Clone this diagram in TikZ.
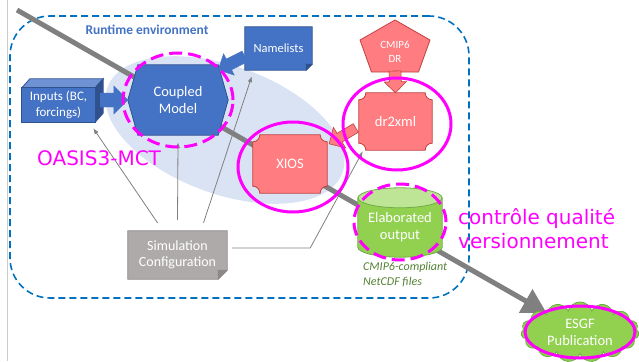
\documentclass[tikz,border=0pt]{standalone}
\usepackage{fontspec}
\setmainfont{Carlito}
\newfontfamily\annfont{DejaVu Sans}
\usetikzlibrary{positioning, calc, shapes.geometric, shapes.symbols, arrows.meta}
\pgfdeclarelayer{back}
\pgfdeclarelayer{shapes}
\pgfsetlayers{back,shapes,main}

\definecolor{runblue}{RGB}{0,112,192}
\definecolor{boxblue}{RGB}{68,114,196}
\definecolor{boxblueD}{RGB}{47,82,143}
\definecolor{boxblueL}{RGB}{110,146,212}
\definecolor{boxred}{RGB}{255,124,128}
\definecolor{boxredD}{RGB}{192,64,64}
\definecolor{boxgreen}{RGB}{146,208,80}
\definecolor{boxgreenL}{RGB}{190,228,150}
\definecolor{boxgreenD}{RGB}{112,173,71}
\definecolor{boxgray}{RGB}{174,170,170}
\definecolor{boxgrayD}{RGB}{140,136,136}
\definecolor{haze}{RGB}{218,227,243}
\definecolor{hlpink}{RGB}{255,0,255}
\definecolor{notegreen}{RGB}{84,130,53}
\definecolor{flowgray}{RGB}{128,128,128}

\tikzset{
  box/.style={inner sep=0pt, text=white, align=center, font=\fontsize{14.5}{17}\selectfont},
  hl/.style={ellipse, draw=hlpink, line width=3pt, inner sep=0pt},
  hldash/.style={hl, dash pattern=on 13pt off 6pt},
  hltext/.style={text=hlpink, inner sep=0pt, font=\annfont\fontsize{20}{24}\selectfont},
  link/.style={draw=flowgray, line width=0.8pt, -{Latex[length=6pt,width=4.5pt]}},
  flow/.style={draw=flowgray, line width=5pt, -{Triangle[length=24pt,width=26pt]}},
}

\newcommand{\plaque}[3]{%
  \filldraw[fill=#2, draw=#3, line width=0.8pt] ([xshift=7pt]#1.north west) -- ([xshift=-7pt]#1.north east)
    .. controls ([xshift=-7pt,yshift=-4pt]#1.north east) and ([xshift=-4pt,yshift=-7pt]#1.north east) .. ([yshift=-7pt]#1.north east)
    -- ([yshift=7pt]#1.south east)
    .. controls ([xshift=-4pt,yshift=7pt]#1.south east) and ([xshift=-7pt,yshift=4pt]#1.south east) .. ([xshift=-7pt]#1.south east)
    -- ([xshift=7pt]#1.south west)
    .. controls ([xshift=7pt,yshift=4pt]#1.south west) and ([xshift=4pt,yshift=7pt]#1.south west) .. ([yshift=7pt]#1.south west)
    -- ([yshift=-7pt]#1.north west)
    .. controls ([xshift=4pt,yshift=-7pt]#1.north west) and ([xshift=7pt,yshift=-4pt]#1.north west) .. cycle;}

\newcommand{\docshape}[4]{%
  \filldraw[fill=#2, draw=#3, line width=0.8pt] (#1.north west) -- (#1.north east) -- ([yshift=#4]#1.south east)
    -- ([xshift=-#4]#1.south east) -- (#1.south west) -- cycle;
  \filldraw[fill=#3, draw=#3, line width=0.8pt] ([yshift=#4]#1.south east) -- ([xshift=-#4]#1.south east)
    -- ([xshift=-#4,yshift=#4]#1.south east) -- cycle;}

\newcommand{\blockarrow}[5]{%
  \coordinate (ba) at ($(#3)!#5!(#2)$);
  \filldraw[#1] ($(#2)!#4!90:(#3)$) -- ($(ba)!#4!90:(#3)$) -- ($(ba)!#5!90:(#3)$) -- (#3)
    -- ($(ba)!#5!-90:(#3)$) -- ($(ba)!#4!-90:(#3)$) -- ($(#2)!#4!-90:(#3)$) -- cycle;}

\begin{document}
\begin{tikzpicture}[x=1pt, y=-1pt]
\useasboundingbox (0,0) rectangle (639,361);
\draw[black!20] (7,0) -- (7,361);

\node[box, minimum width=73pt, minimum height=34pt, font=\fontsize{13}{15.5}\selectfont] (inputs) at (58.5,105) {Inputs (BC,\\forcings)};
\node[box, minimum width=100pt, minimum height=70pt] (model) at (178,100) {Coupled\\Model};
\node[box, minimum width=67pt, minimum height=43pt, font=\fontsize{12.5}{15}\selectfont] (names) at (278.5,48.5) {Namelists};
\node[box, font=\fontsize{11}{14}\selectfont] (cmip) at (395,52) {CMIP6\\DR};
\node[box, minimum width=73pt, minimum height=57pt] (drxml) at (395.5,121.5) {dr2xml};
\node[box, minimum width=74pt, minimum height=58pt] (xios) at (290,164) {XIOS};
\node[box, minimum width=84pt, minimum height=59pt] (elab) at (400,227.5) {Elaborated\\output};
\node[box, minimum width=99pt, minimum height=48pt, font=\fontsize{14}{16.5}\selectfont] (sim) at (177.5,255) {Simulation\\Configuration};
\node[box, cloud, cloud puffs=15, aspect=2, fill=boxgreen, draw=boxgreenD, line width=0.8pt, minimum width=118pt, minimum height=58pt] (esgf) at (580,332) {ESGF\\Publication};

\node[text=boxblue, font=\bfseries\fontsize{13.5}{16}\selectfont] (title) at (147,30) {Runtime environment};

\begin{pgfonlayer}{back}
\node[ellipse, fill=haze, rotate=-20, minimum width=250pt, minimum height=128pt] (haze) at (225,130) {};
\node[draw=runblue, line width=1.6pt, dash pattern=on 7pt off 4pt, rounded corners=40pt, minimum width=459pt, minimum height=282pt] (runtime) at (239.5,157) {};
\coordinate (origin) at (17,10);
\draw[flow] (origin) -- (esgf);
\end{pgfonlayer}

\begin{pgfonlayer}{shapes}
\filldraw[fill=boxblueL, draw=boxblueD, line width=0.8pt] (inputs.north west) -- ++(8,-9) -- ([xshift=8pt,yshift=9pt]inputs.north east) -- (inputs.north east) -- cycle;
\filldraw[fill=boxblueD, draw=boxblueD, line width=0.8pt] (inputs.north east) -- ++(8,-9) -- ([xshift=8pt,yshift=9pt]inputs.south east) -- (inputs.south east) -- cycle;
\filldraw[fill=boxblue, draw=boxblueD, line width=0.8pt] (inputs.north west) rectangle (inputs.south east);
\filldraw[fill=boxblue, draw=boxblueD, line width=0.8pt] (model.west) -- ([xshift=10pt]model.north west) -- ([xshift=-10pt]model.north east)
  -- (model.east) -- ([xshift=-10pt]model.south east) -- ([xshift=10pt]model.south west) -- cycle;
\docshape{names}{boxblue}{boxblueD}{6pt}
\docshape{sim}{boxgray}{boxgrayD}{9pt}
\filldraw[fill=boxred, draw=boxredD, line width=0.8pt] ([yshift=32pt]cmip.center) -- ([xshift=35pt,yshift=12pt]cmip.center)
  -- ([xshift=23.5pt,yshift=-20pt]cmip.center) -- ([xshift=-23.5pt,yshift=-20pt]cmip.center) -- ([xshift=-35pt,yshift=12pt]cmip.center) -- cycle;
\plaque{drxml}{boxred}{boxredD}
\plaque{xios}{boxred}{boxredD}
\filldraw[fill=boxgreen, draw=boxgreenD, line width=0.8pt] (elab.north west) -- ([yshift=10pt]elab.south west)
  .. controls ([yshift=4.5pt]elab.south west) and ([xshift=18.8pt]elab.south west) .. (elab.south)
  .. controls ([xshift=-18.8pt]elab.south east) and ([yshift=4.5pt]elab.south east) .. ([yshift=10pt]elab.south east)
  -- (elab.north east) -- cycle;
\filldraw[fill=boxgreenL, draw=boxgreenD, line width=0.8pt] (elab.north) ellipse [x radius=42pt, y radius=10pt];
\end{pgfonlayer}

\coordinate (inR) at ([xshift=5pt,yshift=5pt]inputs.east);
\blockarrow{fill=boxblue, draw=boxblue}{inR}{model.west}{7pt}{14pt}
\coordinate (nmL) at ([yshift=-8pt]names.west);
\coordinate (nmT) at ([xshift=-10pt,yshift=-5pt]model.north east);
\blockarrow{fill=boxblue, draw=boxblue}{nmL}{nmT}{6pt}{12pt}
\coordinate (cmB) at ([yshift=-19pt]cmip.center);
\blockarrow{fill=boxred, draw=boxredD, line width=0.6pt}{cmB}{drxml.north}{6pt}{11pt}
\coordinate (drL) at ([xshift=-3pt,yshift=-6.5pt]drxml.west);
\coordinate (xsT) at ([xshift=2pt,yshift=-9pt]xios.north east);
\blockarrow{fill=boxred, draw=boxredD, line width=0.6pt}{drL}{xsT}{5pt}{12pt}

\draw[link] ([xshift=-20pt,yshift=8pt]sim.north) -- ([xshift=-2pt,yshift=-6pt]inputs.south east);
\draw[link] ([yshift=11pt]sim.north) -- ([yshift=-7pt]model.south);
\draw[link] ([xshift=26pt,yshift=8pt]sim.north) -- ([xshift=7pt,yshift=-6pt]names.south west);
\draw[link] ([xshift=5pt,yshift=7pt]sim.east) -- ++(78,0) -- ([xshift=4pt,yshift=-1pt]drxml.south west);

\node[hldash, minimum width=110pt, minimum height=94pt] (hlmodel) at (model) {};
\node[hl, minimum width=108pt, minimum height=92pt] (hldr) at ([xshift=1.5pt,yshift=-2.5pt]drxml) {};
\node[hl, minimum width=110pt, minimum height=90pt] (hlxios) at ([xshift=3pt,yshift=-3pt]xios) {};
\node[hldash, minimum width=92pt, minimum height=76pt] (hlelab) at ([yshift=5.5pt]elab) {};
\node[hl, minimum width=110pt, minimum height=52pt] (hlesgf) at (esgf) {};

\node[hltext, anchor=base west] (oasis) at (37,165) {OASIS3-MCT};
\node[hltext, anchor=north west, align=left] (ctrl) at (458,208) {contrôle qualité\\versionnement};
\node[anchor=north west, align=left, inner sep=0pt, text=notegreen, font=\itshape\fontsize{12}{15}\selectfont] (netcdf) at (363,262) {CMIP6-compliant\\NetCDF files};
\end{tikzpicture}
\end{document}
